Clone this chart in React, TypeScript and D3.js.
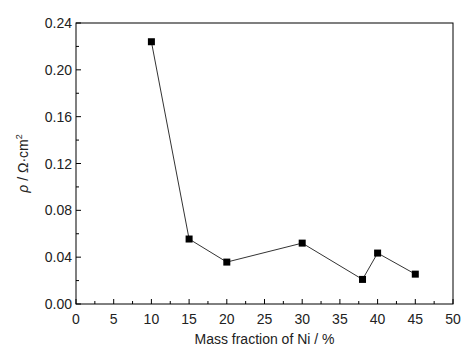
import React, { useRef, useEffect } from 'react';
import * as d3 from 'd3';

const massFraction = [10, 15, 20, 30, 38, 40, 45];
const resistivity = [0.224, 0.0555, 0.0358, 0.052, 0.021, 0.0435, 0.0255];
const xTicks = [0, 5, 10, 15, 20, 25, 30, 35, 40, 45, 50];
const yTicks = [0, 0.04, 0.08, 0.12, 0.16, 0.2, 0.24];

export default function App() {
  const ref = useRef<SVGSVGElement>(null);

  useEffect(() => {
    const svg = d3.select(ref.current);
    svg.selectAll('*').remove();

    const width = 469;
    const height = 352;
    const margin = { left: 76, right: 16, top: 23, bottom: 48 };
    const font = 'Liberation Sans, Arial, sans-serif';
    const txt = '#222';

    svg.attr('width', width).attr('height', height).style('background', 'white');

    const x = d3.scaleLinear().domain([0, 50]).range([margin.left, width - margin.right]);
    const y = d3.scaleLinear().domain([0, 0.24]).range([height - margin.bottom, margin.top]);

    // frame
    svg.append('rect')
      .attr('x', x(0)).attr('y', y(0.24))
      .attr('width', x(50) - x(0)).attr('height', y(0) - y(0.24))
      .attr('fill', 'none').attr('stroke', 'black').attr('stroke-width', 1);

    // x ticks (inward), minor every 2.5
    const xMinor = d3.range(2.5, 50, 5);
    svg.append('g').selectAll('line').data(xTicks).enter().append('line')
      .attr('x1', d => x(d)).attr('x2', d => x(d))
      .attr('y1', y(0)).attr('y2', y(0) - 5)
      .attr('stroke', 'black');
    svg.append('g').selectAll('line').data(xMinor).enter().append('line')
      .attr('x1', d => x(d)).attr('x2', d => x(d))
      .attr('y1', y(0)).attr('y2', y(0) - 3)
      .attr('stroke', 'black');
    svg.append('g').selectAll('text').data(xTicks).enter().append('text')
      .attr('x', d => x(d)).attr('y', y(0) + 20)
      .attr('text-anchor', 'middle')
      .style('font-family', font).style('font-size', '14px').style('fill', txt)
      .text(d => d);

    // y ticks
    const yMinor = d3.range(0.02, 0.24, 0.04);
    svg.append('g').selectAll('line').data(yTicks).enter().append('line')
      .attr('x1', x(0)).attr('x2', x(0) + 5)
      .attr('y1', d => y(d)).attr('y2', d => y(d))
      .attr('stroke', 'black');
    svg.append('g').selectAll('line').data(yMinor).enter().append('line')
      .attr('x1', x(0)).attr('x2', x(0) + 3)
      .attr('y1', d => y(d)).attr('y2', d => y(d))
      .attr('stroke', 'black');
    svg.append('g').selectAll('text').data(yTicks).enter().append('text')
      .attr('x', x(0) - 4).attr('y', d => y(d) + 5)
      .attr('text-anchor', 'end')
      .style('font-family', font).style('font-size', '14px').style('fill', txt)
      .text(d => d.toFixed(2));

    // axis titles
    svg.append('text')
      .attr('x', (x(0) + x(50)) / 2).attr('y', y(0) + 40)
      .attr('text-anchor', 'middle')
      .style('font-family', font).style('font-size', '14px').style('fill', txt)
      .text('Mass fraction of Ni / %');

    const yl = svg.append('text')
      .attr('transform', `translate(28,${(y(0) + y(0.24)) / 2}) rotate(-90)`)
      .attr('text-anchor', 'middle')
      .style('font-family', font).style('font-size', '14px').style('fill', txt);
    yl.append('tspan').style('font-style', 'italic').text('ρ');
    yl.append('tspan').text(' / Ω·cm');
    yl.append('tspan').attr('dy', -6).style('font-size', '9px').text('2');

    const data = massFraction.map((m, i) => ({ m, r: resistivity[i] }));

    const line = d3.line<{ m: number; r: number }>().x(d => x(d.m)).y(d => y(d.r));
    svg.append('path').datum(data)
      .attr('d', line)
      .attr('fill', 'none').attr('stroke', '#333').attr('stroke-width', 1);

    svg.append('g').selectAll('rect').data(data).enter().append('rect')
      .attr('x', d => x(d.m) - 3.5).attr('y', d => y(d.r) - 3.5)
      .attr('width', 7).attr('height', 7)
      .attr('fill', 'black');
  }, []);

  return <svg ref={ref} style={{ position: 'absolute', left: 0, top: 0 }}></svg>;
}
